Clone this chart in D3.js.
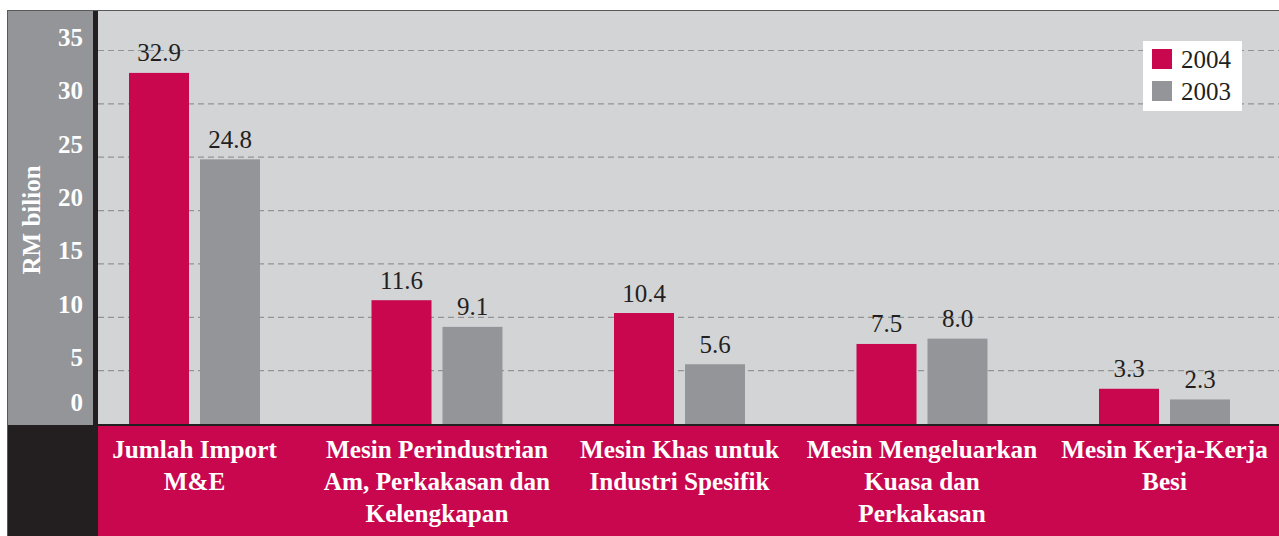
<!DOCTYPE html>
<html>
<head>
<meta charset="utf-8">
<script src="https://cdn.jsdelivr.net/npm/d3@7"></script>
<style>
  body { margin: 0; background: #fff; }
  svg { display: block; }
  text { font-family: "Liberation Serif", "Times New Roman", serif; }
</style>
</head>
<body>
<div id="chart"></div>
<script>
const categories = [
  ["Jumlah Import", "M&E"],
  ["Mesin Perindustrian", "Am, Perkakasan dan", "Kelengkapan"],
  ["Mesin Khas untuk", "Industri Spesifik"],
  ["Mesin Mengeluarkan", "Kuasa dan", "Perkakasan"],
  ["Mesin Kerja-Kerja", "Besi"]
];
const years = ["2004", "2003"];
const values2004 = [32.9, 11.6, 10.4, 7.5, 3.3];
const values2003 = [24.8, 9.1, 5.6, 8.0, 2.3];
const yTicks = [0, 5, 10, 15, 20, 25, 30, 35];

const W = 1279, H = 536;
const red = "#c8074f", grey = "#939598", dark = "#231f20", plotBg = "#d3d4d6";

const svg = d3.select("#chart").append("svg").attr("width", W).attr("height", H);

const plotLeft = 98, plotTop = 11, baseY = 425;

// background panels
svg.append("rect").attr("x", 7).attr("y", 10).attr("width", W - 7).attr("height", H - 10).attr("fill", "#58595b");
svg.append("rect").attr("x", 8).attr("y", 11).attr("width", 85).attr("height", baseY - 11).attr("fill", grey);
svg.append("rect").attr("x", 93).attr("y", 11).attr("width", 5).attr("height", baseY - 11).attr("fill", dark);
svg.append("rect").attr("x", plotLeft).attr("y", plotTop).attr("width", W - plotLeft).attr("height", baseY - plotTop).attr("fill", plotBg);
svg.append("rect").attr("x", 8).attr("y", baseY).attr("width", plotLeft - 8).attr("height", H - baseY).attr("fill", dark);
svg.append("rect").attr("x", plotLeft).attr("y", baseY + 1).attr("width", W - plotLeft).attr("height", H - baseY).attr("fill", red);

const y = d3.scaleLinear().domain([0, 35]).range([424, 50.5]);
const x0 = d3.scalePoint().domain(d3.range(categories.length)).range([194.5, 1164.5]);
const x1 = d3.scaleBand().domain(years).range([-65.5, 65.5]).paddingInner(0.155);

// gridlines
svg.append("g").selectAll("line")
  .data(yTicks.filter(d => d > 0))
  .join("line")
    .attr("x1", plotLeft).attr("x2", W)
    .attr("y1", d => y(d)).attr("y2", d => y(d))
    .attr("stroke", "#929395")
    .attr("stroke-width", 1.2)
    .attr("stroke-dasharray", "6,4");

// y tick labels
svg.append("g").selectAll("text")
  .data(yTicks)
  .join("text")
    .attr("x", 83)
    .attr("y", d => y(d) - (d === 0 ? 13 : 4.5))
    .attr("text-anchor", "end")
    .attr("fill", "#fff")
    .attr("font-weight", "bold")
    .attr("font-size", 25)
    .text(d => d);

svg.append("text")
  .attr("transform", "translate(40,220) rotate(-90)")
  .attr("text-anchor", "middle")
  .attr("fill", "#fff")
  .attr("font-weight", "bold")
  .attr("font-size", 25)
  .text("RM bilion");

// bars
const rows = categories.map((c, i) => ({ i, vals: [values2004[i], values2003[i]] }));
const groups = svg.append("g").selectAll("g")
  .data(rows)
  .join("g")
    .attr("transform", d => `translate(${x0(d.i)},0)`);

groups.selectAll("rect")
  .data(d => years.map((yr, k) => ({ yr, v: d.vals[k] })))
  .join("rect")
    .attr("x", d => x1(d.yr))
    .attr("width", x1.bandwidth())
    .attr("y", d => y(d.v))
    .attr("height", d => y(0) - y(d.v))
    .attr("fill", d => d.yr === "2004" ? red : grey);

groups.selectAll("text")
  .data(d => years.map((yr, k) => ({ yr, v: d.vals[k] })))
  .join("text")
    .attr("x", d => x1(d.yr) + x1.bandwidth() / 2)
    .attr("y", d => y(d.v) - 11.5)
    .attr("text-anchor", "middle")
    .attr("fill", dark)
    .attr("font-size", 25)
    .text(d => d.v.toFixed(1));

// baseline
svg.append("line")
  .attr("x1", plotLeft).attr("x2", W)
  .attr("y1", baseY).attr("y2", baseY)
  .attr("stroke", dark).attr("stroke-width", 2);

// category labels (slightly condensed like the original typeface)
svg.append("g").selectAll("text")
  .data(categories)
  .join("text")
    .attr("transform", (d, i) => `translate(${x0(i)},458) scale(0.97,1)`)
    .attr("text-anchor", "middle")
    .attr("fill", "#fff")
    .attr("font-weight", "bold")
    .attr("font-size", 26)
    .selectAll("tspan")
    .data(d => d)
    .join("tspan")
      .attr("x", 0)
      .attr("dy", (d, k) => k === 0 ? 0 : 32)
      .text(d => d);

// legend
const legend = svg.append("g").attr("transform", "translate(1143,41)");
legend.append("rect").attr("width", 99).attr("height", 70).attr("fill", "#fff");
legend.selectAll("g")
  .data(years)
  .join("g")
    .attr("transform", (d, i) => `translate(9,${8 + i * 32})`)
    .call(g => {
      g.append("rect").attr("width", 20).attr("height", 20)
        .attr("fill", d => d === "2004" ? red : grey);
      g.append("text").attr("x", 29).attr("y", 19)
        .attr("fill", dark).attr("font-size", 25)
        .text(d => d);
    });
</script>
</body>
</html>
